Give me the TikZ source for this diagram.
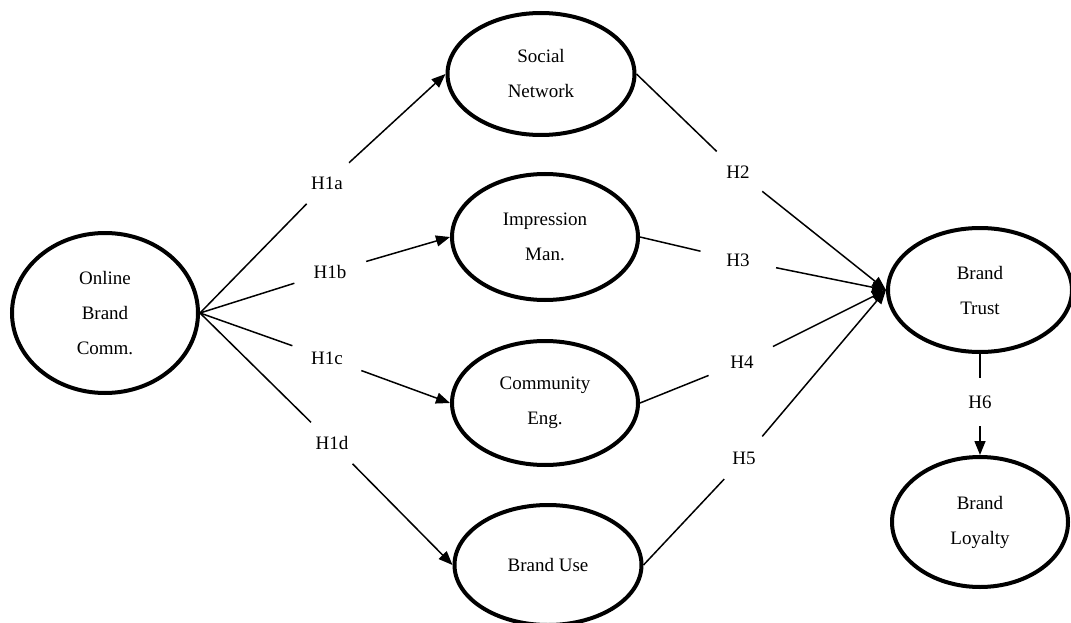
\documentclass[tikz,border=0pt]{standalone}
\usepackage{fontspec}
\setmainfont{Liberation Serif}
\usetikzlibrary{shapes.geometric,arrows.meta,positioning}
\tikzset{
  construct/.style={ellipse, draw=black, line width=4pt, align=center, inner sep=0pt, font=\fontsize{19}{35}\selectfont},
  hyp/.style={ellipse, inner sep=0pt, minimum width=80pt, minimum height=48pt, font=\fontsize{19}{23}\selectfont},
  link/.style={line width=1.5pt, black},
  arrowlink/.style={link, -{Triangle[length=14pt,width=11pt]}}
}

\begin{document}
\begin{tikzpicture}[x=1pt,y=-1pt]
  \useasboundingbox (0,0) rectangle (1071,623);
  % constructs
  \node[construct, minimum width=186pt, minimum height=160pt] (obc) at (105,313) {Online\\Brand\\Comm.};
  \node[construct, minimum width=187pt, minimum height=122pt] (sn) at (541,74) {Social\\Network};
  \node[construct, minimum width=186pt, minimum height=126pt] (im) at (545,237) {Impression\\Man.};
  \node[construct, minimum width=186pt, minimum height=124pt] (ce) at (545,403) {Community\\Eng.};
  \node[construct, minimum width=187pt, minimum height=120pt] (bu) at (548,565) {Brand Use};
  \node[construct, minimum width=184pt, minimum height=124pt] (bt) at (980,290) {Brand\\Trust};
  \node[construct, minimum width=176pt, minimum height=130pt] (bl) at (980,522) {Brand\\Loyalty};
  % hypotheses
  \node[hyp] (h1a) at (327,183) {H1a};
  \node[hyp] (h1b) at (330,272) {H1b};
  \node[hyp] (h1c) at (327,358) {H1c};
  \node[hyp] (h1d) at (332,443) {H1d};
  \node[hyp] (h2) at (738,172) {H2};
  \node[hyp] (h3) at (738,260) {H3};
  \node[hyp] (h4) at (742,362) {H4};
  \node[hyp] (h5) at (744,458) {H5};
  \node[hyp] (h6) at (980,402) {H6};
  % paths
  \draw[link] (obc.east) -- (h1a); \draw[arrowlink] (h1a) -- (sn.west);
  \draw[link] (obc.east) -- (h1b); \draw[arrowlink] (h1b) -- (im.west);
  \draw[link] (obc.east) -- (h1c); \draw[arrowlink] (h1c) -- (ce.west);
  \draw[link] (obc.east) -- (h1d); \draw[arrowlink] (h1d) -- (bu.west);
  \draw[link] (sn.east) -- (h2); \draw[arrowlink] (h2) -- (bt.west);
  \draw[link] (im.east) -- (h3); \draw[arrowlink] (h3) -- (bt.west);
  \draw[link] (ce.east) -- (h4); \draw[arrowlink] (h4) -- (bt.west);
  \draw[link] (bu.east) -- (h5); \draw[arrowlink] (h5) -- (bt.west);
  \draw[link] (bt.south) -- (h6); \draw[arrowlink] (h6) -- (bl.north);
\end{tikzpicture}
\end{document}
